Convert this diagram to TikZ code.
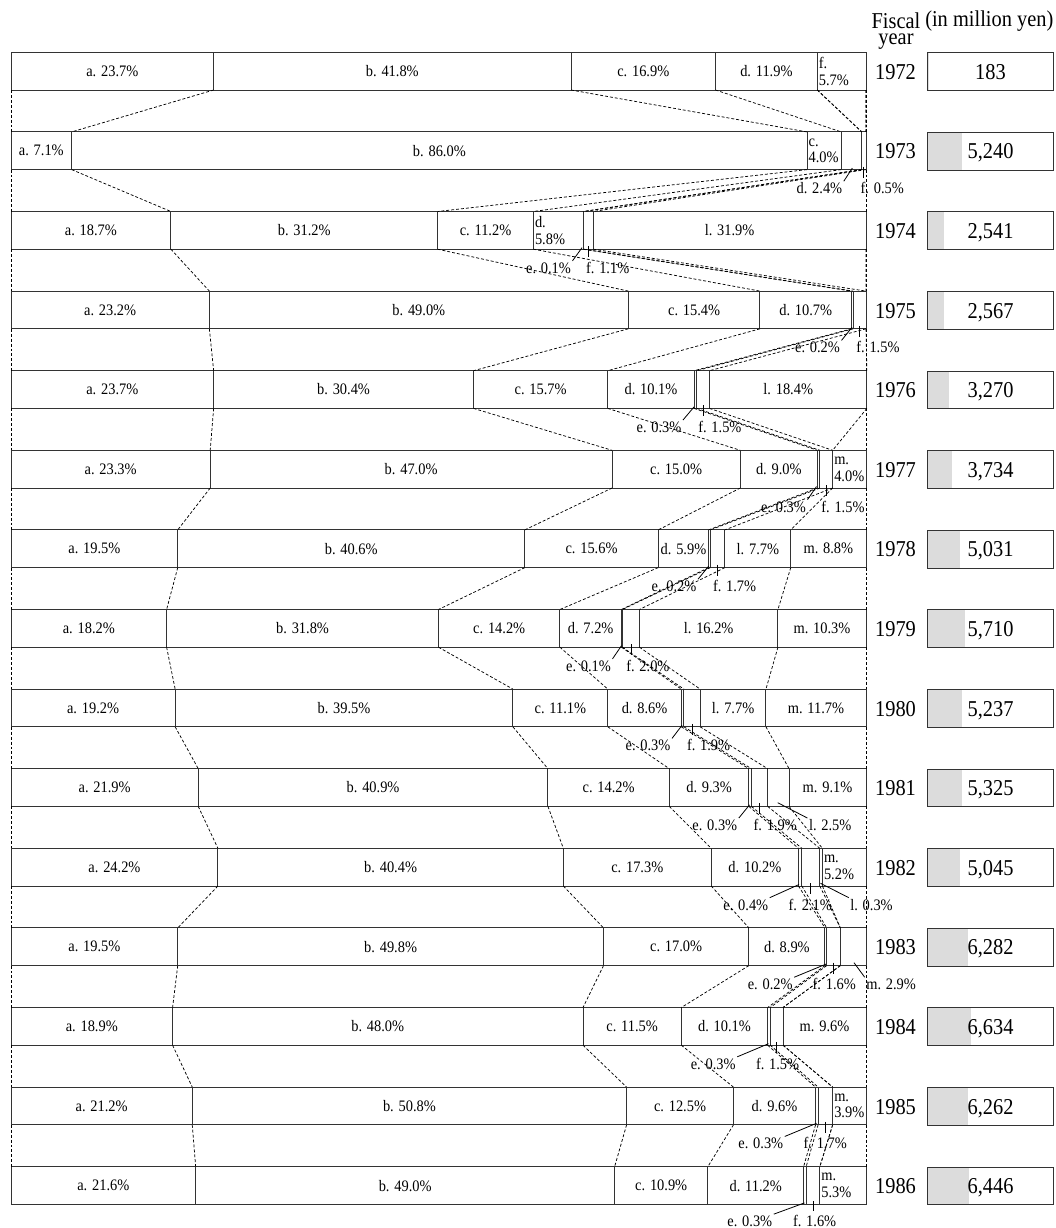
\documentclass[tikz,border=0pt]{standalone}
\usepackage{fontspec}
\setmainfont[FakeStretch=0.9]{Liberation Serif}
\definecolor{boxgray}{RGB}{220,220,220}
\def\laboff{18.7}
\newcommand\seglab[6]{%
  \pgfmathtruncatemacro\kind{(#2>=5.85) ? 1 : ((#2>=3.5) ? 2 : 0)}%
  \ifcase\kind\relax
  \or \node[lab] (#6) at ({11+8.55*(#3+#4)/2}, #5) {#1. #2\%};%
  \or \node[lab2] (#6) at ({11+8.55*(#3)}, #5) {#1.\\#2\%};%
  \fi}
% label below, leader to its north east corner
\newcommand\elab[5]{%
  \pgfmathsetmacro\bb{90+79.6*#1}%
  \node[blab, anchor=east] (#5) at (#3, \bb+\laboff) {#2};
  \coordinate (#5s) at (#4, \bb-1.5);
  \draw[leader] (#5s) -- (#5.north east);}
% label below, vertical tick
\newcommand\ftick[5]{%
  \pgfmathsetmacro\bb{90+79.6*#1}%
  \node[blab, anchor=west] (#5) at (#4, \bb+\laboff) {#2};
  \coordinate (#5s) at (#3, \bb-3);
  \coordinate (#5e) at (#3, \bb+\laboff-10.7);
  \draw[leader] (#5s) -- (#5e);}
% label below right, leader to its north west corner
\newcommand\rlab[6]{%
  \pgfmathsetmacro\bb{90+79.6*#1}%
  \node[blab, anchor=west] (#6) at (#3, \bb+\laboff) {#2};
  \coordinate (#6s) at (#4, \bb+#5);
  \draw[leader] (#6s) -- (#6.north west);}
\begin{document}
\begin{tikzpicture}[x=0.75pt, y=-0.75pt,
  bar/.style={draw=black!80, line width=0.75pt},
  conn/.style={black, line width=0.55pt, dash pattern=on 2.2pt off 1.5pt},
  leader/.style={black, line width=0.6pt},
  lab/.style={font=\fontsize{12}{12.5}\selectfont, inner sep=0pt},
  lab2/.style={lab, align=left, inner sep=1pt, anchor=west},
  blab/.style={lab, inner sep=1pt, text height=8.2pt, text depth=0pt},
  big/.style={font=\fontsize{17}{18}\selectfont, inner sep=0pt},
  bignum/.style={big, text height=11.5pt, text depth=0pt},
  valbox/.style={draw=black!80, line width=0.75pt, minimum width=94.1pt, minimum height=28.3pt, inner sep=0pt, text height=11.5pt, text depth=0pt, font=\fontsize{17}{18}\selectfont}]
\useasboundingbox (0,0) rectangle (1056,1228);

\node[font=\fontsize{17}{12}\selectfont, inner sep=0pt, align=center, anchor=north] (fiscal) at (896,12.5) {Fiscal\\year};
\node[big, anchor=base west] (unit) at (925,26.7) {(in million yen)};

\foreach \yr/\va/\vb/\vc/\vd/\ve/\vf/\vl/\vm/\nv/\txt [count=\i from 0] in {
 1972/23.7/41.8/16.9/11.9/0/5.7/0/0/183/183,
 1973/7.1/86.0/4.0/2.4/0/0.5/0/0/5240/{5,240},
 1974/18.7/31.2/11.2/5.8/0.1/1.1/31.9/0/2541/{2,541},
 1975/23.2/49.0/15.4/10.7/0.2/1.5/0/0/2567/{2,567},
 1976/23.7/30.4/15.7/10.1/0.3/1.5/18.4/0/3270/{3,270},
 1977/23.3/47.0/15.0/9.0/0.3/1.5/0/4.0/3734/{3,734},
 1978/19.5/40.6/15.6/5.9/0.2/1.7/7.7/8.8/5031/{5,031},
 1979/18.2/31.8/14.2/7.2/0.1/2.0/16.2/10.3/5710/{5,710},
 1980/19.2/39.5/11.1/8.6/0.3/1.9/7.7/11.7/5237/{5,237},
 1981/21.9/40.9/14.2/9.3/0.3/1.9/2.5/9.1/5325/{5,325},
 1982/24.2/40.4/17.3/10.2/0.4/2.1/0.3/5.2/5045/{5,045},
 1983/19.5/49.8/17.0/8.9/0.2/1.6/0/2.9/6282/{6,282},
 1984/18.9/48.0/11.5/10.1/0.3/1.5/0/9.6/6634/{6,634},
 1985/21.2/50.8/12.5/9.6/0.3/1.7/0/3.9/6262/{6,262},
 1986/21.6/49.0/10.9/11.2/0.3/1.6/0/5.3/6446/{6,446}}{
  \pgfmathsetmacro\ty{52.3+79.6*\i}
  \pgfmathsetmacro\by{\ty+37.7}
  \pgfmathsetmacro\my{\ty+18.85}
  \pgfmathsetmacro\cuA{\va}
  \pgfmathsetmacro\cuB{\cuA+\vb}
  \pgfmathsetmacro\cuC{\cuB+\vc}
  \pgfmathsetmacro\cuD{\cuC+\vd}
  \pgfmathsetmacro\cuE{\cuD+\ve}
  \pgfmathsetmacro\cuF{\cuE+\vf}
  \pgfmathsetmacro\cuL{\cuF+\vl}
  \foreach \k/\cv in {0/0, 1/\cuA, 2/\cuB, 3/\cuC, 4/\cuD, 5/\cuE, 6/\cuF, 7/\cuL, 8/100}{
    \coordinate (T\i-\k) at ({11+8.55*\cv}, \ty);
    \coordinate (B\i-\k) at ({11+8.55*\cv}, \by);
  }
  \draw[bar] (T\i-0) rectangle (B\i-8);
  \foreach \k in {1,...,7}{\draw[bar] (T\i-\k) -- (B\i-\k);}
  \ifnum\i>0
    \pgfmathtruncatemacro\prev{\i-1}
    \foreach \k in {0,...,8}{\draw[conn] (B\prev-\k) -- (T\i-\k);}
  \fi
  \seglab{a}{\va}{0}{\cuA}{\my}{La\i}
  \seglab{b}{\vb}{\cuA}{\cuB}{\my}{Lb\i}
  \seglab{c}{\vc}{\cuB}{\cuC}{\my}{Lc\i}
  \seglab{d}{\vd}{\cuC}{\cuD}{\my}{Ld\i}
  \seglab{f}{\vf}{\cuE}{\cuF}{\my}{Lf\i}
  \seglab{l}{\vl}{\cuF}{\cuL}{\my}{Ll\i}
  \seglab{m}{\vm}{\cuL}{100}{\my}{Lm\i}
  \node[bignum] (Y\i) at (895.5, \my+0.5) {\yr};
  \fill[boxgray] (927.5,\ty) rectangle ({927.5+0.0065*\nv}, \by);
  \node[valbox] (V\i) at (990.5, \my+0.5) {\txt};
}

% labels below the bars
\elab{1}{d. 2.4\%}{843.8}{852.3}{d1973}
\ftick{1}{f. 0.5\%}{863}{859}{f1973}
\elab{2}{e. 0.1\%}{572.5}{582}{e1974}
\ftick{2}{f. 1.1\%}{588.5}{584.5}{f1974}
\elab{3}{e. 0.2\%}{841.5}{852}{e1975}
\ftick{3}{f. 1.5\%}{859.5}{854.7}{f1975}
\elab{4}{e. 0.3\%}{683}{694}{e1976}
\ftick{4}{f. 1.5\%}{703}{696.7}{f1976}
\elab{5}{e. 0.3\%}{807.5}{816.5}{e1977}
\ftick{5}{f. 1.5\%}{826}{819.7}{f1977}
\elab{6}{e. 0.2\%}{698}{708.7}{e1978}
\ftick{6}{f. 1.7\%}{717.5}{711.4}{f1978}
\elab{7}{e. 0.1\%}{612.5}{621.5}{e1979}
\ftick{7}{f. 2.0\%}{631}{624.7}{f1979}
\elab{8}{e. 0.3\%}{672}{682}{e1980}
\ftick{8}{f. 1.9\%}{692}{685.4}{f1980}
\elab{9}{e. 0.3\%}{738.8}{749.5}{e1981}
\ftick{9}{f. 1.9\%}{759.5}{752}{f1981}
\rlab{9}{l. 2.5\%}{807.4}{777.7}{-3.7}{l1981}
\elab{10}{e. 0.4\%}{769.8}{799}{e1982}
\ftick{10}{f. 2.1\%}{810.5}{787}{f1982}
\rlab{10}{l. 0.3\%}{848.7}{820.5}{-2.7}{l1982}
\elab{11}{e. 0.2\%}{794.2}{826}{e1983}
\ftick{11}{f. 1.6\%}{833.5}{811}{f1983}
\rlab{11}{m. 2.9\%}{864.7}{854}{-2.9}{m1983}
\elab{12}{e. 0.3\%}{737.2}{768.5}{e1984}
\ftick{12}{f. 1.5\%}{776.5}{754.4}{f1984}
\elab{13}{e. 0.3\%}{784.8}{816.5}{e1985}
\ftick{13}{f. 1.7\%}{825.4}{802}{f1985}
\def\laboff{16.8}
\elab{14}{e. 0.3\%}{773.8}{804.5}{e1986}
\ftick{14}{f. 1.6\%}{813}{791.4}{f1986}
\end{tikzpicture}
\end{document}
